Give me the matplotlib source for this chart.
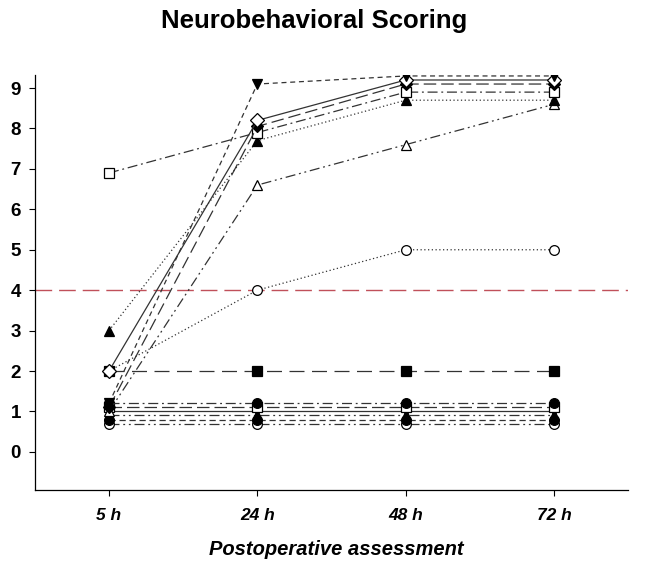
import matplotlib
matplotlib.use("Agg")
import matplotlib.pyplot as plt

plt.rcParams['font.family'] = ['Liberation Sans', 'DejaVu Sans']

times = ['5 h', '24 h', '48 h', '72 h']

# upper / recovering series
tri_down_filled = [1.2, 9.1, 9.3, 9.3]
diamond_open = [2.0, 8.2, 9.2, 9.2]
diamond_filled = [1.1, 8.05, 9.1, 9.1]
square_open = [6.9, 7.9, 8.9, 8.9]
tri_up_filled = [3.0, 7.7, 8.7, 8.7]
tri_up_open = [1.0, 6.6, 7.6, 8.6]
circle_open = [2.0, 4.0, 5.0, 5.0]
square_filled = [2.0, 2.0, 2.0, 2.0]

# flat low series
flat_a = [1.2, 1.2, 1.2, 1.2]
flat_b = [1.1, 1.1, 1.1, 1.1]
flat_c = [1.0, 1.0, 1.0, 1.0]
flat_d = [0.9, 0.9, 0.9, 0.9]
flat_e = [0.8, 0.8, 0.8, 0.8]
flat_f = [0.7, 0.7, 0.7, 0.7]

threshold = 4

fig = plt.figure(figsize=(6.45, 5.65), dpi=100)
ax = fig.add_axes([0.054, 0.133, 0.92, 0.734])

x = list(range(len(times)))
lc = '#333333'
lw = 0.9

def series(y, marker, filled, dashes, ms=7):
    kw = dict(color=lc, lw=lw, marker=marker, markersize=ms,
              markeredgecolor='black', markeredgewidth=0.9,
              markerfacecolor='black' if filled else 'white', zorder=3)
    if dashes is None:
        ax.plot(x, y, linestyle='-', **kw)
    else:
        ax.plot(x, y, linestyle=(0, dashes), **kw)

# threshold line
ax.axhline(threshold, color='#c0505a', lw=1.0, linestyle=(0, (12, 5)), zorder=1)

series(flat_f, 'o', False, (8, 3, 1.5, 3, 1.5, 3))
series(flat_e, 'o', True, (5, 3))
series(flat_d, '^', True, (8, 3, 1.5, 3, 1.5, 3))
series(flat_c, 'v', True, None)
series(flat_b, 's', False, (10, 4), ms=6.5)
series(flat_a, 'o', True, (8, 3, 1.5, 3))

series(square_filled, 's', True, (12, 6), ms=6.5)
series(circle_open, 'o', False, (1, 2))
series(tri_up_open, '^', False, (8, 3, 1.5, 3, 1.5, 3))
series(tri_up_filled, '^', True, (1, 2))
series(square_open, 's', False, (8, 3, 1.5, 3), ms=6.5)
series(diamond_filled, 'D', True, (10, 4), ms=6.5)
series(diamond_open, 'D', False, None, ms=7)
series(tri_down_filled, 'v', True, (4, 3))

ax.set_xlim(-0.5, 3.5)
ax.set_ylim(-0.94, 9.32)
ax.set_yticks(range(0, 10))
ax.set_xticks(x)
ax.set_xticklabels(times, fontsize=12.5, fontweight='bold', fontstyle='italic')
ax.set_yticklabels([str(v) for v in range(0, 10)], fontsize=13.5, fontweight='bold')
ax.tick_params(axis='y', direction='out', length=4, width=0.8, pad=6)
ax.tick_params(axis='x', direction='out', length=4, width=0.8, pad=9)
for s in ['top', 'right']:
    ax.spines[s].set_visible(False)
for s in ['left', 'bottom']:
    ax.spines[s].set_linewidth(0.9)

fig.text(0.521, 0.028, 'Postoperative assessment', ha='center', va='center',
         fontsize=14.5, fontweight='bold', fontstyle='italic')
fig.text(0.487, 0.962, 'Neurobehavioral Scoring', ha='center', va='center',
         fontsize=18.5, fontweight='bold')

fig.savefig('out.png', dpi=100)
